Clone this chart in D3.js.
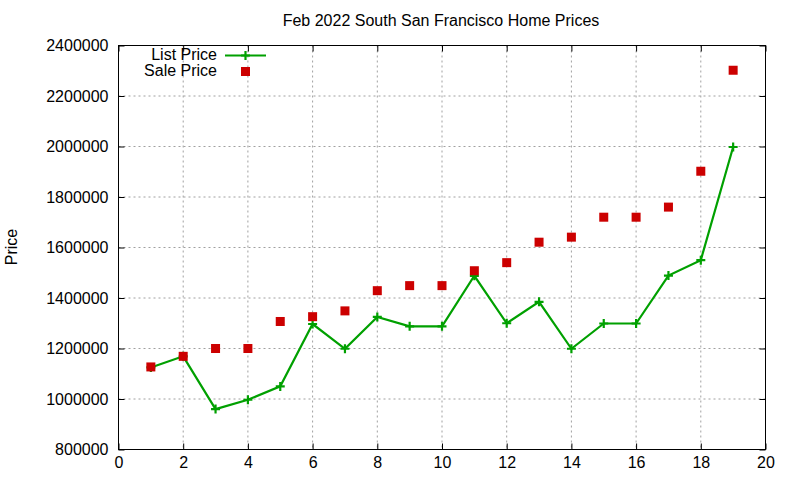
<!DOCTYPE html>
<html lang="en">
<head>
  <meta charset="UTF-8">
  <title>South San Francisco Home Prices</title>
  <script src="https://d3js.org/d3.v7.min.js"></script>
  <style>
    body { margin: 0; background: #fff; }
    svg { font-family: "Liberation Sans", Arial, sans-serif; }
  </style>
</head>
<body>
  <div id="chart"></div>
  <script>
    // values
    const homes = [1, 2, 3, 4, 5, 6, 7, 8, 9, 10, 11, 12, 13, 14, 15, 16, 17, 18, 19];
    const listPrice = [1125000, 1169000, 960000, 997000, 1050000, 1297000, 1199000, 1325000, 1288000, 1288000,
                       1488000, 1300000, 1385000, 1199000, 1299000, 1299000, 1489000, 1550000, 1998000];
    const salePrice = [1127000, 1169000, 1200000, 1200000, 1307000, 1326000, 1349000, 1429000, 1449000, 1449000,
                       1508000, 1540000, 1621000, 1641000, 1720000, 1720000, 1760000, 1902000, 2302000];
    const xTicks = [0, 2, 4, 6, 8, 10, 12, 14, 16, 18, 20];
    const yTicks = [800000, 1000000, 1200000, 1400000, 1600000, 1800000, 2000000, 2200000, 2400000];

    const w = 800, h = 480;
    const mLeft = 118.5, mRight = 765.5, mTop = 45.5, mBottom = 449.5;
    const green = "#00a000", red = "#cc0000";

    const svg = d3.select("#chart").append("svg")
      .attr("width", w).attr("height", h);

    const x = d3.scaleLinear().domain([0, 20]).range([mLeft, mRight]);
    const y = d3.scaleLinear().domain([800000, 2400000]).range([mBottom, mTop]);

    // grid
    svg.append("g").selectAll("line").data(xTicks.slice(1, -1)).join("line")
      .attr("x1", d => x(d)).attr("x2", d => x(d))
      .attr("y1", mTop).attr("y2", mBottom)
      .attr("stroke", "#a0a0a0").attr("stroke-dasharray", "2,3");
    svg.append("g").selectAll("line").data(yTicks.slice(1, -1)).join("line")
      .attr("x1", mLeft).attr("x2", mRight)
      .attr("y1", d => y(d)).attr("y2", d => y(d))
      .attr("stroke", "#a0a0a0").attr("stroke-dasharray", "2,3");

    // axes, ticks point inward and are mirrored
    const styleAxis = g => {
      g.select(".domain").remove();
      g.selectAll("line").attr("stroke", "#000");
      g.selectAll("text").attr("font-size", 16).attr("fill", "#000")
        .attr("font-family", "'Liberation Sans', Arial, sans-serif");
    };
    svg.append("g").attr("transform", `translate(0,${mBottom})`)
      .call(d3.axisBottom(x).tickValues(xTicks).tickSizeInner(-6).tickPadding(7).tickFormat(d3.format("d")))
      .call(styleAxis);
    svg.append("g").attr("transform", `translate(0,${mTop})`)
      .call(d3.axisTop(x).tickValues(xTicks).tickSizeInner(-6).tickFormat(""))
      .call(styleAxis);
    svg.append("g").attr("transform", `translate(${mLeft},0)`)
      .call(d3.axisLeft(y).tickValues(yTicks).tickSizeInner(-6).tickPadding(10).tickFormat(d3.format("d")))
      .call(styleAxis);
    svg.append("g").attr("transform", `translate(${mRight},0)`)
      .call(d3.axisRight(y).tickValues(yTicks).tickSizeInner(-6).tickFormat(""))
      .call(styleAxis);

    svg.append("rect")
      .attr("x", mLeft).attr("y", mTop)
      .attr("width", mRight - mLeft).attr("height", mBottom - mTop)
      .attr("fill", "none").attr("stroke", "#000");

    // titles
    svg.append("text").attr("x", 441).attr("y", 26)
      .attr("text-anchor", "middle").attr("font-size", 16)
      .text("Feb 2022 South San Francisco Home Prices");
    svg.append("text").attr("transform", "translate(17,247) rotate(-90)")
      .attr("text-anchor", "middle").attr("font-size", 16)
      .text("Price");

    const plus = (g, cx, cy) => {
      g.append("path")
        .attr("d", `M${cx - 4.5},${cy}H${cx + 4.5}M${cx},${cy - 4.5}V${cy + 4.5}`)
        .attr("stroke", green).attr("stroke-width", 2.2).attr("fill", "none");
    };
    const square = (g, cx, cy) => {
      g.append("rect").attr("x", cx - 4.5).attr("y", cy - 4.5)
        .attr("width", 9).attr("height", 9).attr("fill", red);
    };

    // list price line with plus points
    const line = d3.line().x((d, i) => x(homes[i])).y(d => y(d));
    svg.append("path").datum(listPrice)
      .attr("d", line).attr("fill", "none")
      .attr("stroke", green).attr("stroke-width", 2.2);
    const pts = svg.append("g");
    listPrice.forEach((v, i) => plus(pts, x(homes[i]), y(v)));

    // sale price squares
    const sq = svg.append("g");
    salePrice.forEach((v, i) => square(sq, x(homes[i]), y(v)));

    // legend
    const leg = svg.append("g").attr("font-size", 16);
    leg.append("text").attr("x", 217).attr("y", 60).attr("text-anchor", "end").text("List Price");
    leg.append("line").attr("x1", 225).attr("x2", 266).attr("y1", 55.5).attr("y2", 55.5)
      .attr("stroke", green).attr("stroke-width", 2.2);
    plus(leg, 245.5, 55.5);
    leg.append("text").attr("x", 217).attr("y", 76).attr("text-anchor", "end").text("Sale Price");
    square(leg, 245.5, 71.5);
  </script>
</body>
</html>
